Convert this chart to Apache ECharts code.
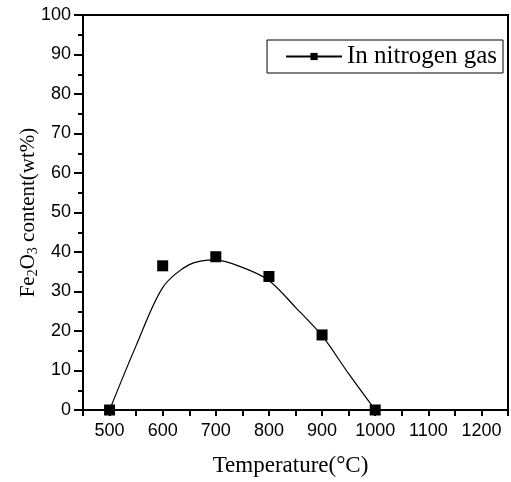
<!DOCTYPE html>
<html>
<head>
    <meta charset="UTF-8">
    <title>Fe2O3 content</title>
    <style>
        html, body {
            margin: 0;
            padding: 0;
            background: #fff;
        }

        #chart {
            width: 511px;
            height: 482px;
        }
    </style>
    <script src="https://cdn.jsdelivr.net/npm/echarts@6/dist/echarts.min.js"></script>
</head>
<body>
<div id="chart"></div>
<script>
    // measured points
    var temps = [500, 600, 700, 800, 900, 1000];
    var feContent = [0, 36.5, 38.8, 33.8, 19.0, 0];

    // fitted curve
    var fitTemps = [500, 550, 600, 650, 700, 750, 800, 850, 900, 950, 1000];
    var fitValues = [0, 16.3, 31, 36.8, 38, 36.1, 32.8, 26, 18.8, 9.2, 0];

    var xLabels = [500, 600, 700, 800, 900, 1000, 1100, 1200];
    var seriesName = 'In nitrogen gas';

    var chart = echarts.init(document.getElementById('chart'), null, {renderer: 'canvas'});

    var tickFont = {fontFamily: 'Liberation Sans', fontSize: 18, color: '#000'};

    chart.setOption({
        animation: false,
        grid: {
            left: 83, top: 15, right: 1, bottom: 68,
            show: true, borderColor: '#000', borderWidth: 2
        },
        legend: {
            data: [seriesName],
            right: 8, top: 40,
            padding: [4, 6, 4, 18],
            itemGap: 6,
            borderColor: '#000', borderWidth: 1,
            itemWidth: 56, itemHeight: 9,
            textStyle: {fontFamily: 'Liberation Serif', fontSize: 25, color: '#000'}
        },
        xAxis: {
            type: 'value',
            min: 450, max: 1250, interval: 50,
            name: 'Temperature(°C)',
            nameLocation: 'middle', nameGap: 44,
            nameTextStyle: {fontFamily: 'Liberation Serif', fontSize: 23, color: '#000', padding: [0, 10, 0, 0]},
            axisLine: {lineStyle: {color: '#000', width: 2}},
            axisTick: {inside: false, length: 6, lineStyle: {color: '#000', width: 2}},
            splitLine: {show: false},
            axisLabel: Object.assign({
                margin: 12,
                formatter: function (v) {
                    return xLabels.indexOf(v) >= 0 ? String(v) : '';
                }
            }, tickFont)
        },
        yAxis: {
            type: 'value',
            min: 0, max: 100, interval: 10,
            name: '{n|Fe}{s|2}{n|O}{s|3}{n| content(wt%)}',
            nameLocation: 'middle', nameGap: 43,
            nameMoveOverlap: false,
            nameTextStyle: {
                rich: {
                    n: {fontFamily: 'Liberation Serif', fontSize: 21, color: '#000'},
                    s: {fontFamily: 'Liberation Serif', fontSize: 14, color: '#000', padding: [10, 0, 0, 0]}
                }
            },
            axisLine: {lineStyle: {color: '#000', width: 2}},
            axisTick: {inside: false, length: 9, lineStyle: {color: '#000', width: 2}},
            minorTick: {show: true, splitNumber: 2, length: 5, lineStyle: {color: '#000', width: 2}},
            splitLine: {show: false},
            axisLabel: Object.assign({margin: 12}, tickFont)
        },
        series: [
            {
                name: seriesName,
                type: 'line',
                smooth: 0.3,
                symbol: 'rect',
                symbolSize: 10,
                showSymbol: false,
                itemStyle: {color: '#000'},
                lineStyle: {color: '#000', width: 1.2},
                data: fitTemps.map(function (t, i) { return [t, fitValues[i]]; }),
                z: 2
            },
            {
                name: 'points',
                type: 'scatter',
                symbol: 'rect',
                symbolSize: 11,
                itemStyle: {color: '#000', opacity: 1},
                data: temps.map(function (t, i) { return [t, feContent[i]]; }),
                z: 3
            }
        ]
    });
</script>
</body>
</html>
